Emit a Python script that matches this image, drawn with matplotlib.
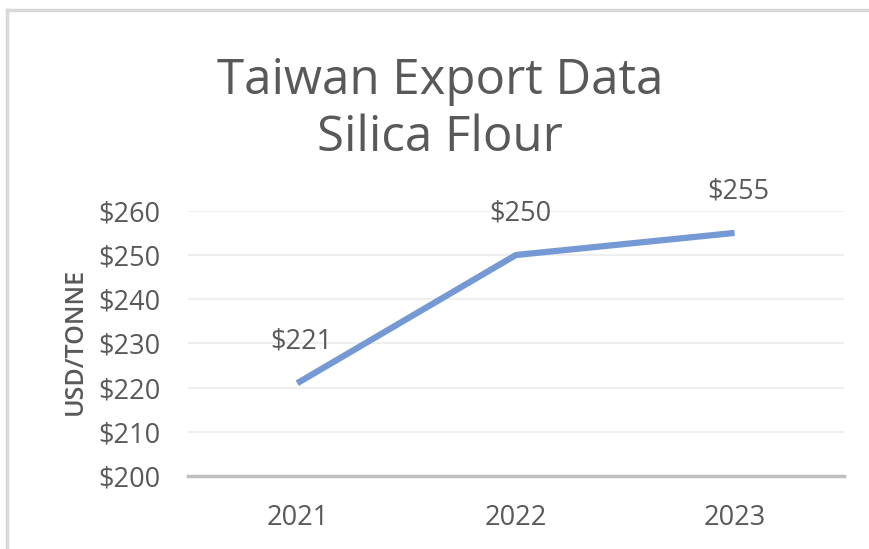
import matplotlib.pyplot as plt
from matplotlib.lines import Line2D

years = ['2021', '2022', '2023']
prices = [221, 250, 255]
yticks = [200, 210, 220, 230, 240, 250, 260]

plt.rcParams['font.family'] = ['Open Sans', 'DejaVu Sans']
txt = '#595959'

fig = plt.figure(figsize=(8.7, 5.49), dpi=100)
ax = fig.add_axes([0.216, 0.133, 0.754, 0.483])

x = list(range(len(years)))
ax.plot(x, prices, color='#7599D4', lw=4.5, solid_capstyle='butt', zorder=3)
for xi, p in zip(x, prices):
    ax.annotate(f'${p}', (xi, p), xytext=(3, 30), textcoords='offset points',
                ha='center', va='center', fontsize=19.5, color=txt)

ax.set_xlim(-0.5, 2.5)
ax.set_ylim(200, 260)
ax.set_yticks(yticks)
ax.set_yticklabels([f'${v}' for v in yticks])
ax.set_xticks(x)
ax.set_xticklabels(years)
ax.tick_params(length=0, labelsize=19.5, colors=txt)
ax.tick_params(axis='y', pad=20)
ax.tick_params(axis='x', pad=20)
ax.grid(axis='y', color='#EFEFEF', lw=1.5)
ax.set_axisbelow(True)
for s in ['top', 'right', 'left']:
    ax.spines[s].set_visible(False)
ax.spines['bottom'].set_color('#BFBFBF')
ax.spines['bottom'].set_linewidth(2.5)
ax.set_ylabel('USD/TONNE', fontsize=18, fontweight='semibold', color=txt)
ax.yaxis.set_label_coords(-0.152, 0.506)

fig.text(0.506, 0.80, 'Taiwan Export Data\nSilica Flour', ha='center', va='center',
         fontsize=35.5, color=txt, linespacing=1.22)

# chart border (left and top only visible)
fig.add_artist(Line2D([0.008, 0.008], [0, 0.982], color='#D9D9D9', lw=2.5))
fig.add_artist(Line2D([0.008, 1.0], [0.982, 0.982], color='#D9D9D9', lw=2.5))

fig.savefig('out.png', dpi=100)
